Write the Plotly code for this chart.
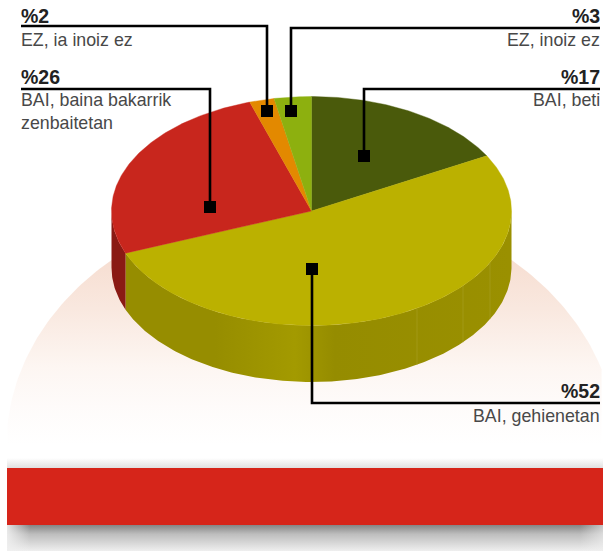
import math
import plotly.graph_objects as go

# --- data, clockwise from 12 o'clock ---
categories = ["BAI, beti", "BAI, gehienetan", "BAI, baina bakarrik<br>zenbaitetan", "EZ, ia inoiz ez", "EZ, inoiz ez"]
values = [17, 52, 26, 2, 3]
top_colors = ["#4a5a0b", "#bbb100", "#c8261d", "#e38900", "#8db00f"]

# --- geometry of the drawing, in pixels of the 603x551 frame ---
W, H = 603, 551
CX, CY, RX, RY, DEPTH = 311.5, 211.0, 200.0, 114.5, 56.5
INK = "#000000"


def pt(deg, dy=0.0):
    a = math.radians(deg)
    return CX + RX * math.sin(a), CY - RY * math.cos(a) + dy


def arc(a0, a1, dy=0.0):
    n = max(2, int(abs(a1 - a0) * 1.5))
    pts = [pt(a0 + (a1 - a0) * i / n, dy) for i in range(n + 1)]
    return [p[0] for p in pts], [p[1] for p in pts]


fig = go.Figure()


def poly(xs, ys, color=None, gradient=None, line=None, lw=0):
    kw = dict(x=xs, y=ys, mode="lines", fill="toself", hoverinfo="skip", showlegend=False,
              line=dict(width=lw, color=line or "rgba(0,0,0,0)"))
    if gradient:
        kw["fillgradient"] = gradient
    else:
        kw["fillcolor"] = color
    fig.add_trace(go.Scatter(**kw))


# dome behind the pie
DX, DY, DA, DB = 311.5, 445.0, 305.0, 245.0
dx, dy = [], []
for i in range(181):
    a = math.radians(180 + i)
    x = DX + DA * math.cos(a)
    y = DY + DB * math.sin(a)
    if 7 <= x <= W:
        dx.append(x)
        dy.append(y)
dx = [dx[0]] + dx + [dx[-1]]
dy = [462] + dy + [462]
poly(dx, dy, gradient=dict(type="vertical", start=250, stop=445,
                           colorscale=[[0, "#f6dccf"], [0.3, "#f9e8df"], [0.6, "#fdf6f2"], [0.8, "#fefbfa"], [1, "#ffffff"]]))

# bar shadows
poly([7, W, W, 7], [458, 458, 468, 468],
     gradient=dict(type="vertical", start=458, stop=468, colorscale=[[0, "rgba(200,200,200,0)"], [1, "rgba(200,200,200,0.55)"]]))
poly([7, W, W, 7], [525, 525, H, H],
     gradient=dict(type="vertical", start=525, stop=551, colorscale=[[0, "#858585"], [0.35, "#bdbdbd"], [1, "#efefef"]]))
poly([7, 30, 30, 7], [525, 525, H, H],
     gradient=dict(type="horizontal", start=7, stop=30, colorscale=[[0, "rgba(240,240,240,0.9)"], [1, "rgba(240,240,240,0)"]]))
poly([580, W, W, 580], [525, 525, H, H],
     gradient=dict(type="horizontal", start=580, stop=W, colorscale=[[0, "rgba(240,240,240,0)"], [1, "rgba(240,240,240,0.6)"]]))

# side wall, visible from 90 to 270 degrees
wall_fill = {
    1: dict(type="horizontal", start=125, stop=511,
            colorscale=[[0, "#968d00"], [0.233, "#968d00"], [0.44, "#a39a00"], [0.544, "#958c00"], [1, "#9a9000"]]),
}
wall_colors = ["#3a470a", None, "#8a1a14", "#b06c00", "#6f8a0c"]
start = 0.0
bounds = []
for v in values:
    bounds.append((start, start + v * 3.6))
    start += v * 3.6
for i, (a0, a1) in enumerate(bounds):
    lo, hi = max(a0, 90), min(a1, 270)
    if hi > lo:
        x1, y1 = arc(lo, hi)
        x2, y2 = arc(hi, lo, DEPTH)
        poly(x1 + x2, y1 + y2, color=wall_colors[i], gradient=wall_fill.get(i))

# faint seams in the wall
for sx in (417, 463, 490):
    a = math.degrees(math.asin((sx - CX) / RX))
    _, ya = pt(180 - a)
    fig.add_trace(go.Scatter(x=[sx, sx], y=[ya, ya + DEPTH], mode="lines", hoverinfo="skip", showlegend=False,
                             line=dict(color="#a79e1e", width=0.7)))

# top face
for i, (a0, a1) in enumerate(bounds):
    xs, ys = arc(a0, a1)
    poly([CX] + xs + [CX], [CY] + ys + [CY], color=top_colors[i], line=top_colors[i], lw=0.4)

# leaders: (x of text edge, y of rule, elbow x, marker y, bottom of value text, top of label text)
leaders = [
    (600, 89, 364, 156, 88, 90),
    (600, 403, 312, 269, 402, 406),
    (21, 89, 210, 207, 88, 90),
    (21, 26, 267, 111, 27, 30),
    (600, 28, 291, 111, 27, 30),
]
for i, (tx, ry, ex, my, vb, lt) in enumerate(leaders):
    fig.add_trace(go.Scatter(x=[tx, ex, ex], y=[ry, ry, my], mode="lines", hoverinfo="skip", showlegend=False,
                             line=dict(color=INK, width=2.6)))
    fig.add_trace(go.Scatter(x=[ex], y=[my], mode="markers", hoverinfo="skip", showlegend=False,
                             marker=dict(symbol="square", size=12, color=INK, line=dict(width=0))))
    anchor = "left" if tx < 100 else "right"
    fig.add_annotation(x=tx, y=vb, text=f"<b>%{values[i]}</b>", showarrow=False, xanchor=anchor, yanchor="bottom",
                       align=anchor, borderpad=0, borderwidth=0,
                       font=dict(family="Liberation Sans", size=19.5, color="#222222"))
    fig.add_annotation(x=tx, y=lt, text=categories[i], showarrow=False, xanchor=anchor, yanchor="top",
                       align=anchor, borderpad=0, borderwidth=0,
                       font=dict(family="Liberation Sans", size=17.8, color="#484848"))

fig.update_layout(
    width=W, height=H, margin=dict(l=0, r=0, t=0, b=0), showlegend=False,
    paper_bgcolor="#ffffff", plot_bgcolor="#ffffff",
    xaxis=dict(range=[0, W], visible=False, fixedrange=True),
    yaxis=dict(range=[H, 0], visible=False, fixedrange=True),
    shapes=[dict(type="rect", x0=7, x1=W, y0=468, y1=525, fillcolor="#d6251a", line=dict(width=0))],
)
fig.write_html("out.html", config=dict(displayModeBar=False),
               post_script="document.body.style.margin='0';document.documentElement.style.overflow='hidden';")
